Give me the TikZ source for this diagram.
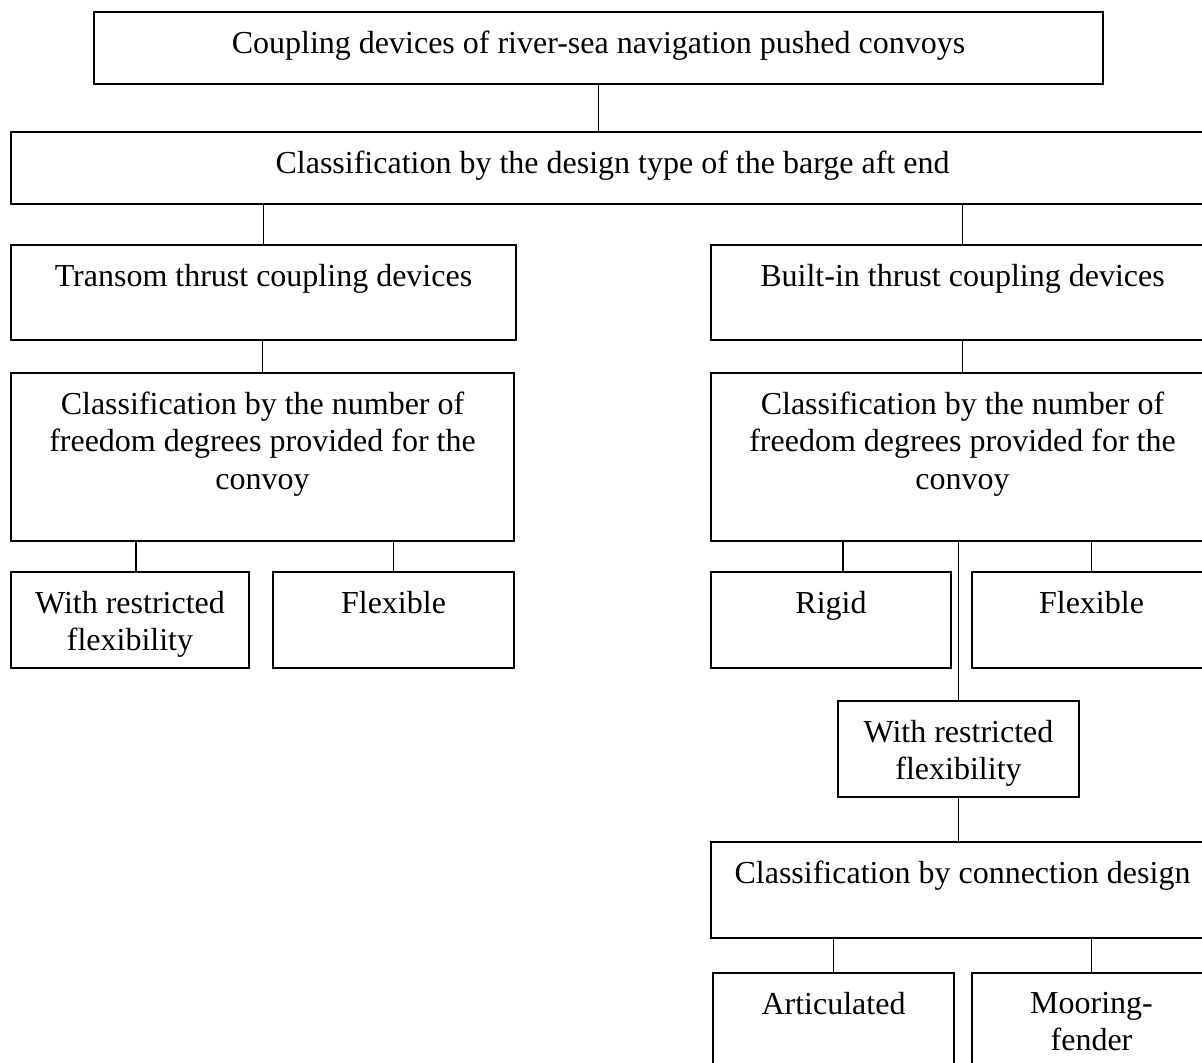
\documentclass[tikz,border=0pt]{standalone}
\usepackage{fontspec}
\setmainfont{Liberation Serif}
\usetikzlibrary{positioning,fit,calc}
\tikzset{
  box/.style={draw,line width=0.7pt,inner sep=0pt},
  lbl/.style={align=center,inner sep=0pt,font=\fontsize{16pt}{18.7pt}\selectfont},
}
\begin{document}
\begin{tikzpicture}[x=0.5pt,y=-0.5pt,line width=0.7pt]
\useasboundingbox (0,0) rectangle (1202,1063);
\clip (0,0) rectangle (1202,1063);
\node[box,fit={(94,12) (1103,84)}] (top) {};
\node[box,fit={(11,132) (1214,204)}] (dtype) {};
\node[box,fit={(11,245) (516,340)}] (trans) {};
\node[box,fit={(711,245) (1214,340)}] (built) {};
\node[box,fit={(11,373) (514,541)}] (ftl) {};
\node[box,fit={(711,373) (1214,541)}] (ftr) {};
\node[box,fit={(11,572) (249,668)}] (rfl) {};
\node[box,fit={(273,572) (514,668)}] (flx) {};
\node[box,fit={(711,572) (951,668)}] (rig) {};
\node[box,fit={(972,572) (1211,668)}] (flr) {};
\node[box,fit={(838,701) (1079,797)}] (rfr) {};
\node[box,fit={(711,842) (1214,938)}] (conn) {};
\node[box,fit={(713,973) (954,1075)}] (art) {};
\node[box,fit={(972,973) (1211,1075)}] (moor) {};
\node[lbl,below=9.5pt of top.north] (topt) {Coupling devices of river-sea navigation pushed convoys};
\node[lbl,below=9.5pt of dtype.north] (dtypet) {Classification by the design type of the barge aft end};
\node[lbl,below=9.5pt of trans.north] (transt) {Transom thrust coupling devices};
\node[lbl,below=9.5pt of built.north] (builtt) {Built-in thrust coupling devices};
\node[lbl,below=9.5pt of ftl.north] (ftlt) {Classification by the number of\\freedom degrees provided for the\\convoy};
\node[lbl,below=9.5pt of ftr.north] (ftrt) {Classification by the number of\\freedom degrees provided for the\\convoy};
\node[lbl,below=9.5pt of rfl.north] (rflt) {With restricted\\flexibility};
\node[lbl,below=9.5pt of flx.north] (flxt) {Flexible};
\node[lbl,below=9.5pt of rig.north] (rigt) {Rigid};
\node[lbl,below=9.5pt of flr.north] (flrt) {Flexible};
\node[lbl,below=9.5pt of rfr.north] (rfrt) {With restricted\\flexibility};
\node[lbl,below=9.5pt of conn.north] (connt) {Classification by connection design};
\node[lbl,below=9.5pt of art.north] (artt) {Articulated};
\node[lbl,below=9.5pt of moor.north] (moort) {Mooring-\\fender};
\draw (top.south) -- (top.south |- dtype.north);
\draw (trans.north) -- (trans.north |- dtype.south);
\draw (built.north) -- (built.north |- dtype.south);
\draw (ftl.north) -- (ftl.north |- trans.south);
\draw (ftr.north) -- (ftr.north |- built.south);
\draw ([xshift=3pt]rfl.north) -- ([xshift=3pt]rfl.north |- ftl.south);
\draw (flx.north) -- (flx.north |- ftl.south);
\draw ([xshift=6pt]rig.north) -- ([xshift=6pt]rig.north |- ftr.south);
\draw (flr.north) -- (flr.north |- ftr.south);
\draw (rfr.north) -- (rfr.north |- ftr.south);
\draw (rfr.south) -- (rfr.south |- conn.north);
\draw (art.north) -- (art.north |- conn.south);
\draw (moor.north) -- (moor.north |- conn.south);
\end{tikzpicture}
\end{document}
